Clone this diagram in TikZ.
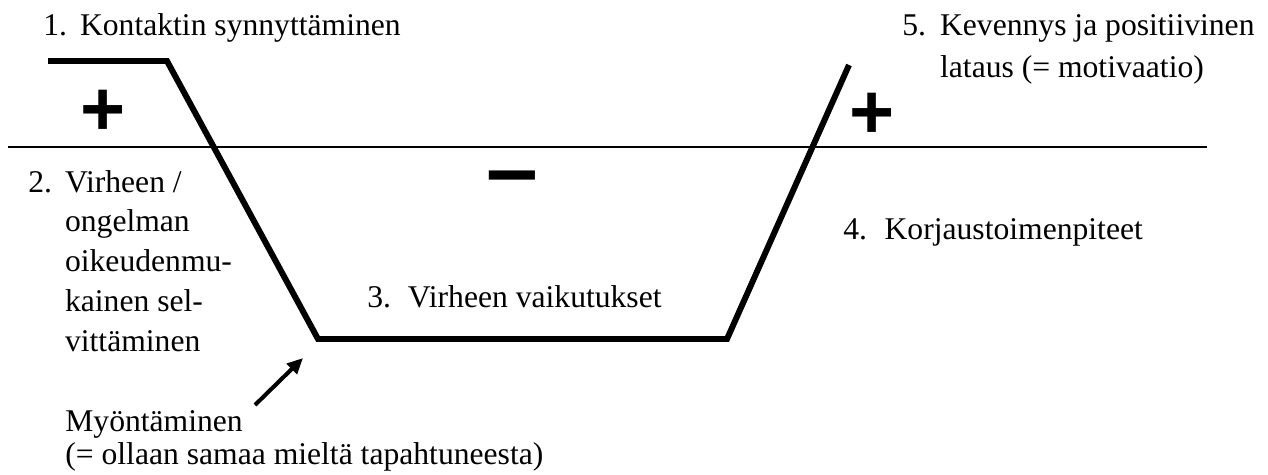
\documentclass[tikz,border=0pt]{standalone}
\usepackage{fontspec}
\setmainfont{Liberation Serif}
\newfontfamily\signfont{Liberation Sans}
\usetikzlibrary{arrows.meta}

\begin{document}
\begin{tikzpicture}[x = 0.02cm, y = -0.02cm, line join = miter]
\tikzstyle{txt} = [inner sep = 0pt, anchor = base west, font = \fontsize{18}{22.7}\selectfont]
\tikzstyle{sign} = [inner sep = 0pt, font = \signfont\bfseries\fontsize{44}{44}\selectfont]
\tikzstyle{curve} = [line width = 3.4pt]
\useasboundingbox (0, 0) rectangle (1268, 474);
% the curve and the zero line
\coordinate (P-1) at (48, 61);
\coordinate (P-2) at (167, 61);
\coordinate (P-3) at (318, 339);
\coordinate (P-4) at (727, 339);
\coordinate (P-5) at (849, 65);
\coordinate (A-1) at (8, 147);
\coordinate (A-2) at (1207, 147);
\draw[line width = 1pt] (A-1) -- (A-2);
\draw[curve] (P-1) -- (P-2) -- (P-3) -- (P-4) -- (P-5);
% signs
\node[sign] (S-1) at (103, 113) {+};
\node[sign] (S-2) at (872, 116) {+};
\node[sign, anchor = base, font = \signfont\bfseries\fontsize{53}{53}\selectfont] (S-3) at (512, 200) {–};
% phases
\node[txt] (T-1) at (43, 35) {1.\hspace{7.4pt}Kontaktin synnyttäminen};
\node[txt] (T-2) at (28, 192) {\begin{tabular}[t]{@{}l@{\hspace{7.4pt}}l@{}}
2. & Virheen /\\ & ongelman\\ & oikeudenmu-\\ & kainen sel-\\ & vittäminen\end{tabular}};
\node[txt] (T-3) at (367, 307) {3.\hspace{9.6pt}Virheen vaikutukset};
\node[txt] (T-4) at (843, 239) {4.\hspace{10pt}Korjaustoimenpiteet};
\node[txt, font = \fontsize{18}{24.4}\selectfont] (T-5) at (902, 35) {\begin{tabular}[t]{@{}l@{\hspace{8pt}}l@{}}
5. & Kevennys ja positiivinen\\ & lataus (= motivaatio)\end{tabular}};
\node[txt, font = \fontsize{18}{19.3}\selectfont] (M) at (65, 431) {\begin{tabular}[t]{@{}l@{}}
Myöntäminen\\(= ollaan samaa mieltä tapahtuneesta)\end{tabular}};
% arrow
\coordinate (B-1) at (255, 405);
\coordinate (B-2) at (303, 358);
\draw[line width = 2.3pt, -{Triangle[length = 9pt, width = 8pt]}] (B-1) -- (B-2);
\end{tikzpicture}
\end{document}
